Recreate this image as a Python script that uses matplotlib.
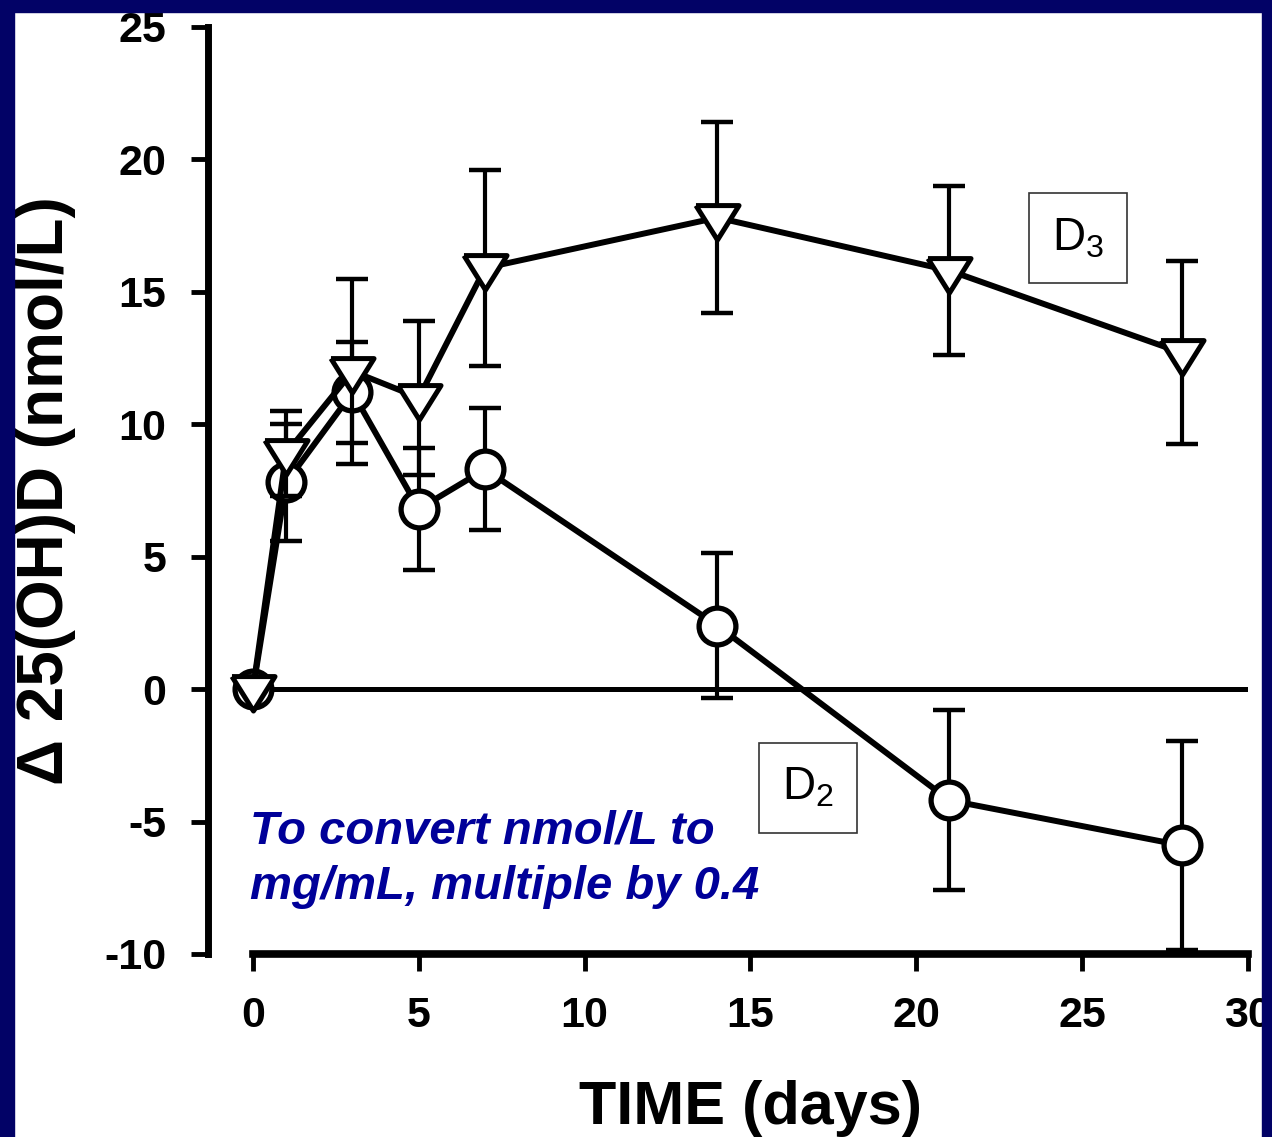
import matplotlib
matplotlib.use("Agg")
import matplotlib.pyplot as plt
from matplotlib.patches import Rectangle

plt.rcParams["font.family"] = ["Liberation Sans", "DejaVu Sans"]

# --- data --------------------------------------------------------------------
days    = [0, 1, 3, 5, 7, 14, 21, 28]
d3_mean = [0, 8.9, 12.0, 11.0, 15.9, 17.8, 15.8, 12.7]
d3_err  = [0, 1.6, 3.5, 2.9, 3.7, 3.6, 3.2, 3.45]
d2_mean = [0, 7.8, 11.2, 6.8, 8.3, 2.4, -4.2, -5.9]
d2_err  = [0, 2.2, 1.9, 2.3, 2.3, 2.75, 3.4, 3.95]

x_ticks = [0, 5, 10, 15, 20, 25, 30]
y_ticks = [-10, -5, 0, 5, 10, 15, 20, 25]

NAVY = "#020266"
TXT_BLUE = "#000099"

# flattened down-pointing triangle
TRI = [(-1, 0.6), (1, 0.6), (0, -1.0), (-1, 0.6)]

fig = plt.figure(figsize=(12.72, 11.37), dpi=100)
fig.set_facecolor("white")
ax = fig.add_axes([0.1989, 0.1610, 0.7822, 0.8153])

ax.axhline(0, color="black", lw=3.6, zorder=1)

# baseline point (day 0) has no error bar
eb = dict(fmt="none", ecolor="black", elinewidth=3.0, capsize=11.5,
          capthick=3.2, clip_on=False)

# D2 (circles)
ax.errorbar(days[1:], d2_mean[1:], yerr=d2_err[1:], zorder=2, **eb)
ax.plot(days, d2_mean, color="black", lw=4.3, marker="o", ms=26.5,
        mfc="white", mec="black", mew=3.8, zorder=3, clip_on=False)

# D3 (triangles)
ax.errorbar(days[1:], d3_mean[1:], yerr=d3_err[1:], zorder=4, **eb)
ax.plot(days, d3_mean, color="black", lw=4.3, marker=TRI, ms=31,
        mfc="white", mec="black", mew=3.6, zorder=5, clip_on=False)

ax.set_xlim(0, 30)
ax.set_ylim(-10, 25)
ax.set_xticks(x_ticks)
ax.set_yticks(y_ticks)
ax.set_xticklabels([str(v) for v in x_ticks])
ax.set_yticklabels([str(v) for v in y_ticks])

for s in ("top", "right"):
    ax.spines[s].set_visible(False)
ax.spines["left"].set_position(("outward", 32.4))
ax.spines["left"].set_linewidth(5)
ax.spines["bottom"].set_linewidth(5.5)

ax.tick_params(axis="both", direction="out", length=12, width=3.5,
               labelsize=31, pad=18)
for lab in ax.get_xticklabels() + ax.get_yticklabels():
    lab.set_fontweight("bold")

ax.set_xlabel("TIME (days)", fontsize=44, fontweight="bold")
ax.xaxis.set_label_coords(0.5, -0.136)
ax.set_ylabel("\u0394 25(OH)D (nmol/L)", fontsize=46, fontweight="bold")
ax.yaxis.set_label_coords(-0.178, 0.5)

# series labels
box = dict(boxstyle="square,pad=0.5", fc="white", ec="#333333", lw=1.2)
ax.text(24.87, 17.03, "D$_\\mathregular{3}$", fontsize=33, ha="center",
        va="center", bbox=box, zorder=6)
ax.text(16.73, -3.73, "D$_\\mathregular{2}$", fontsize=33, ha="center",
        va="center", bbox=box, zorder=6)

ax.text(-0.003, 0.156, "To convert nmol/L to\nmg/mL, multiple by 0.4",
        transform=ax.transAxes, fontsize=34, fontweight="bold",
        fontstyle="italic", color=TXT_BLUE, ha="left", va="top",
        linespacing=1.35, zorder=6)

# dark slide frame drawn over everything (clips label edges like the original)
W, H = 1272, 1137
fig.patches.extend([
    Rectangle((0, 0), 14 / W, 1, transform=fig.transFigure, color=NAVY, zorder=10),
    Rectangle((1262 / W, 0), 10 / W, 1, transform=fig.transFigure, color=NAVY, zorder=10),
    Rectangle((0, 1 - 12 / H), 1, 12 / H, transform=fig.transFigure, color=NAVY, zorder=10),
])

fig.savefig("out.png", dpi=100, facecolor=fig.get_facecolor())
